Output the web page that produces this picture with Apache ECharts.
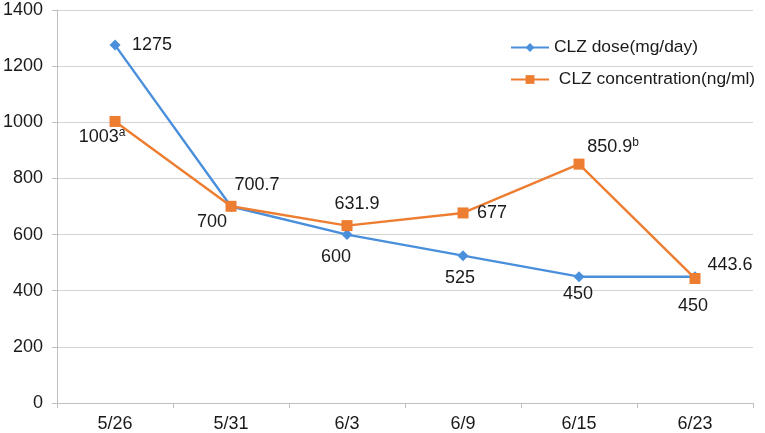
<!DOCTYPE html>
<html>
<head>
<meta charset="utf-8">
<script src="https://cdn.jsdelivr.net/npm/echarts@6/dist/echarts.min.js"></script>
<style>
html,body{margin:0;padding:0;background:#fff;}
#c{width:765px;height:433px;}
</style>
</head>
<body>
<div id="c"></div>
<script>
const categories = ['5/26', '5/31', '6/3', '6/9', '6/15', '6/23'];
const doseValues = [1275, 700, 600, 525, 450, 450];
const concValues = [1003, 700.7, 631.9, 677, 850.9, 443.6];
const concSuffix = ['a', '', '', '', 'b', ''];
const yTicks = [0, 200, 400, 600, 800, 1000, 1200, 1400];

// label offsets (styling only)
const doseOffsets = [[37, 0], [-19, 16], [-11, 22], [-3, 22], [-1, 17], [-2, 29]];
const concOffsets = [[-13, 16], [26, -21], [10, -22], [29, 0], [34, -17], [35, -13]];

const FONT = 'Liberation Sans';
const TXT = '#1a1a1a';
const baseLabel = { show: true, position: 'inside', color: TXT, fontSize: 18, fontFamily: FONT };

const doseData = doseValues.map((v, i) => ({
  value: v,
  label: Object.assign({}, baseLabel, { offset: doseOffsets[i], formatter: String(v) })
}));
const concData = concValues.map((v, i) => ({
  value: v,
  label: Object.assign({}, baseLabel, {
    offset: concOffsets[i],
    formatter: concSuffix[i] ? (String(v) + '{sup|' + concSuffix[i] + '}') : String(v),
    rich: { sup: { fontSize: 12, fontFamily: FONT, color: TXT, padding: [0, 0, 9, 0] } }
  })
}));

const chart = echarts.init(document.getElementById('c'));
chart.setOption({
  animation: false,
  backgroundColor: '#fff',
  grid: { left: 57, right: 12, top: 10, bottom: 30 },
  legend: {
    orient: 'vertical',
    left: 505,
    top: 34,
    itemWidth: 38,
    itemHeight: 11,
    itemGap: 15,
    textStyle: { fontSize: 17.4, fontFamily: FONT, color: TXT },
    data: [
      { name: 'CLZ dose(mg/day)' },
      { name: ' CLZ concentration(ng/ml)' }
    ]
  },
  xAxis: {
    type: 'category',
    data: categories,
    boundaryGap: true,
    axisLine: { lineStyle: { color: '#bfbfbf', width: 1 } },
    axisTick: { show: true, length: 5, lineStyle: { color: '#bfbfbf' } },
    axisLabel: { fontSize: 18, fontFamily: FONT, color: TXT, margin: 12 },
    splitLine: { show: false }
  },
  yAxis: {
    type: 'value',
    min: yTicks[0],
    max: yTicks[yTicks.length - 1],
    interval: yTicks[1] - yTicks[0],
    axisLine: { show: true, lineStyle: { color: '#bfbfbf', width: 1 } },
    axisTick: { show: true, length: 5, lineStyle: { color: '#bfbfbf' } },
    axisLabel: { fontSize: 18, fontFamily: FONT, color: TXT, margin: 14, formatter: v => String(v) },
    splitLine: { show: true, lineStyle: { color: '#d4d4d4', width: 1 } }
  },
  series: [
    {
      name: 'CLZ dose(mg/day)',
      type: 'line',
      data: doseData,
      symbol: 'diamond',
      symbolSize: 11,
      color: '#4a8fdb',
      lineStyle: { width: 2.4, color: '#4a8fdb' },
      itemStyle: { color: '#4a8fdb' }
    },
    {
      name: ' CLZ concentration(ng/ml)',
      type: 'line',
      data: concData,
      symbol: 'rect',
      symbolSize: 11,
      color: '#ed7d31',
      lineStyle: { width: 2.4, color: '#ed7d31' },
      itemStyle: { color: '#ed7d31' }
    }
  ]
});
</script>
</body>
</html>
